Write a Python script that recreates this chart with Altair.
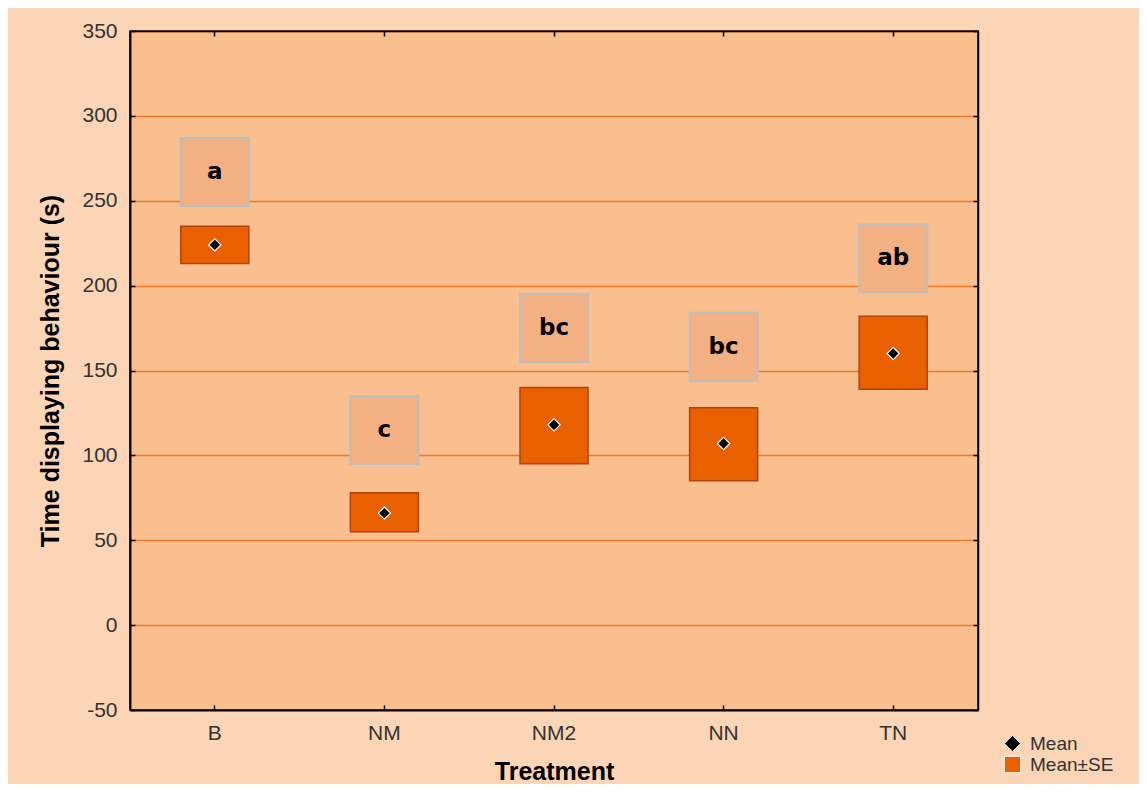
import altair as alt
import pandas as pd

treatments = ["B", "NM", "NM2", "NN", "TN"]
means = [224, 66, 118, 107, 160]
se_low = [213, 55, 95, 85, 139]
se_high = [235, 78, 140, 128, 182]
letters = ["a", "c", "bc", "bc", "ab"]
letter_y = [267, 115, 175, 164, 216]
y_ticks = [-50, 0, 50, 100, 150, 200, 250, 300, 350]
series_names = ["Mean", "Mean±SE"]

df = pd.DataFrame({
    "treatment": treatments,
    "mean": means,
    "low": se_low,
    "high": se_high,
    "letter": letters,
    "letter_y": letter_y,
})

W, H = 848, 679
FONT = "Liberation Sans"

xscale = alt.Scale(type="band", domain=treatments, paddingInner=0, paddingOuter=0)
yscale = alt.Scale(domain=[-50, 350], nice=False, zero=False)

color_scale = alt.Scale(domain=series_names, range=["black", "#E86000"])
shape_scale = alt.Scale(domain=series_names, range=["diamond", "square"])

tick_common = dict(labels=False, ticks=True, tickSize=5, tickWidth=1.5, tickColor="black",
                   domain=True, domainColor="black", domainWidth=1.5, grid=False,
                   title=None, zindex=1)

main_x_axis = alt.Axis(title="Treatment", labelFont=FONT, labelFontSize=21, labelColor="#333333",
                       labelPadding=12, ticks=False, domain=True, domainColor="black",
                       domainWidth=1.5, grid=False, titleFont=FONT, titleFontSize=25,
                       titleFontWeight="bold", titleColor="black", titlePadding=16, zindex=1,
                       labelAngle=0)
main_y_axis = alt.Axis(title="Time displaying behaviour (s)", values=y_ticks, labelFont=FONT,
                       labelFontSize=21, labelColor="#333333", labelPadding=13, ticks=False,
                       labelExpr="'' + datum.value",
                       domain=True, domainColor="black", domainWidth=1.5, grid=True,
                       gridColor="#F07826", gridWidth=1.6, titleFont=FONT, titleFontSize=25,
                       titleFontWeight="bold", titleColor="black", titlePadding=18, zindex=0)

base = alt.Chart(df)

se_bars = base.transform_calculate(series="'Mean±SE'").mark_bar(
    size=68, stroke="#B8400C", strokeWidth=1.5
).encode(
    x=alt.X("treatment:N", scale=xscale, sort=treatments, axis=main_x_axis),
    y=alt.Y("low:Q", scale=yscale, axis=main_y_axis),
    y2="high:Q",
    color=alt.Color("series:N", scale=color_scale,
                    legend=alt.Legend(title=None, orient="none", legendX=873, legendY=703,
                                      labelFont=FONT, labelFontSize=19, labelColor="#333333",
                                      symbolSize=270, rowPadding=0, labelOffset=8, padding=0,
                                      symbolStrokeColor="#A83A08", symbolStrokeWidth=1)),
)

letter_boxes = base.mark_square(
    size=4624, fill="#F3B183", stroke="#BDBDBD", strokeWidth=2, opacity=1
).encode(
    x=alt.X("treatment:N", scale=xscale, sort=treatments,
            axis=alt.Axis(orient="top", offset=-H, **tick_common)),
    y=alt.Y("letter_y:Q", scale=yscale,
            axis=alt.Axis(orient="right", offset=-W, values=y_ticks, **tick_common)),
)

letter_text = base.mark_text(
    font="DejaVu Sans", fontWeight="bold", fontSize=23, baseline="middle", color="black"
).encode(
    x=alt.X("treatment:N", scale=xscale, sort=treatments,
            axis=alt.Axis(orient="bottom", offset=-H, **tick_common)),
    y=alt.Y("letter_y:Q", scale=yscale,
            axis=alt.Axis(orient="left", offset=-W, values=y_ticks, **tick_common)),
    text="letter:N",
)

mean_pts = base.transform_calculate(series="'Mean'").mark_point(
    filled=True, size=150, stroke="white", strokeWidth=1.2, opacity=1
).encode(
    x=alt.X("treatment:N", scale=xscale, sort=treatments, axis=None),
    y=alt.Y("mean:Q", scale=yscale, axis=None),
    color=alt.Color("series:N", scale=color_scale),
    shape=alt.Shape("series:N", scale=shape_scale),
)

chart = alt.layer(se_bars, letter_boxes, letter_text, mean_pts).resolve_axis(
    x="independent", y="independent"
).properties(
    width=W, height=H,
    background="#FBD5B5",
    autosize=alt.AutoSizeParams(type="none"),
    padding={"left": 122, "top": 23, "right": 161, "bottom": 74},
).configure_view(
    fill="#F9BF8F", stroke="black", strokeWidth=1.5
)

chart.save("out.html", embed_options={"renderer": "svg", "actions": False})
